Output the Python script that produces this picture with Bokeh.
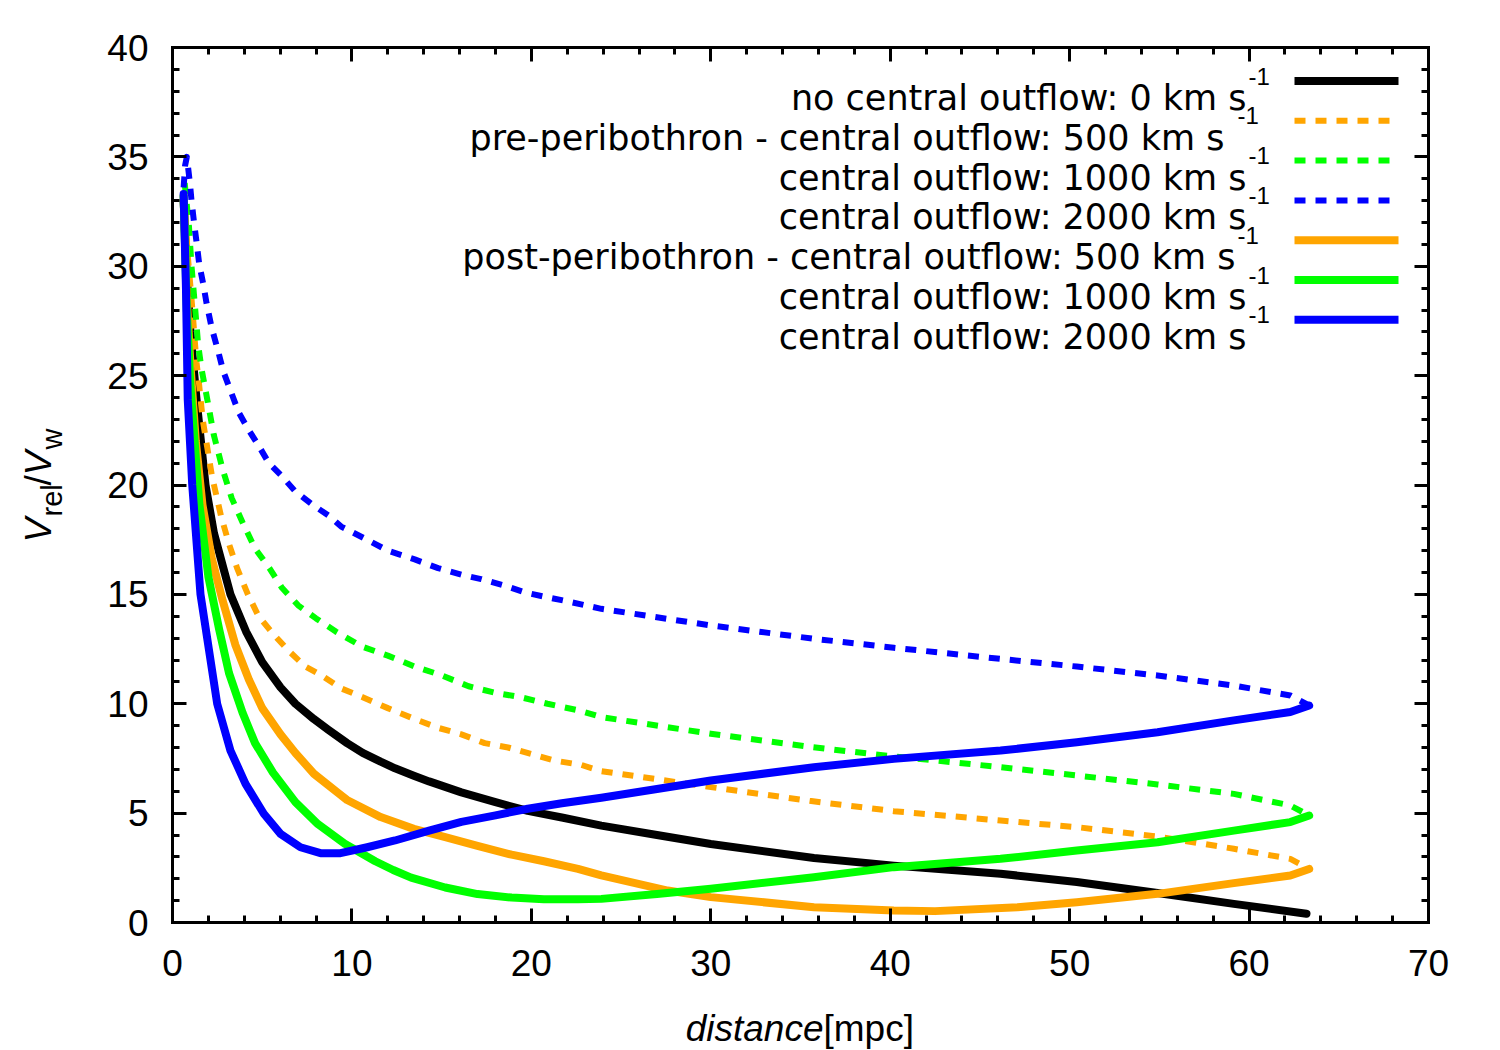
import math
from bokeh.plotting import figure
from bokeh.models import Range1d, LinearAxis, SingleIntervalTicker, Label
from bokeh.embed import file_html
from bokeh.resources import INLINE

# ---------------- data ----------------
# no central outflow (black)
dist_0 = [0.62, 0.8, 1.0, 1.34, 1.84, 2.31, 3.23, 4.1, 5.0, 6.02, 6.85, 7.88, 8.7, 9.73, 10.6, 11.6,
          12.4, 13.45, 14.3, 16.1, 18.0, 19.8, 21.7, 23.9, 27.0, 30.0, 35.75, 40.2, 46.15, 50.4,
          54.9, 59.15, 63.2]
ratio_0 = [33.0, 29.5, 27.0, 23.9, 20.0, 17.8, 15.0, 13.3, 11.9, 10.75, 10.0, 9.3, 8.8, 8.2, 7.75, 7.35,
           7.05, 6.71, 6.45, 5.95, 5.5, 5.1, 4.8, 4.43, 4.0, 3.59, 2.95, 2.6, 2.23, 1.85,
           1.35, 0.85, 0.40]

# pre-peribothron, 500 km/s (orange dashed)
dist_pre500 = [0.65, 0.85, 1.06, 1.15, 1.25, 1.34, 1.47, 1.58, 1.7, 2.2, 2.7, 3.15, 3.6, 4.2, 4.8,
               5.6, 6.5, 7.4, 8.3, 9.4, 10.6, 12.0, 13.5, 14.8, 16.1, 17.4, 18.7, 20.0, 21.3, 22.8,
               23.9, 30.0, 35.6, 40.2, 46.15, 50.4, 54.9, 59.15, 62.3, 63.35]
ratio_pre500 = [33.4, 30.5, 28.5, 27.6, 26.5, 25.6, 24.7, 23.8, 22.9, 20.4, 18.6, 17.3, 16.2, 15.0, 14.0,
                13.2, 12.4, 11.7, 11.3, 10.7, 10.3, 9.8, 9.3, 8.9, 8.6, 8.2, 8.0, 7.7, 7.4, 7.2,
                6.92, 6.19, 5.55, 5.09, 4.66, 4.36, 3.93, 3.37, 2.91, 2.45]

# pre-peribothron, 1000 km/s (green dashed)
dist_pre1000 = [0.68, 0.92, 1.06, 1.25, 1.43, 1.62, 1.85, 2.3, 2.8, 3.3, 3.9, 4.6, 5.4, 6.1, 7.0,
                8.0, 9.1, 10.6, 12.0, 13.5, 15.0, 16.5, 18.0, 19.4, 20.9, 22.6, 23.9, 30.0, 35.6,
                40.2, 42.5, 46.15, 50.4, 54.9, 59.15, 62.3, 63.35]
ratio_pre1000 = [33.8, 31.8, 30.0, 28.2, 26.4, 25.3, 24.3, 22.3, 20.7, 19.4, 18.3, 17.1, 16.2, 15.3, 14.5,
                 13.9, 13.3, 12.6, 12.2, 11.7, 11.3, 10.8, 10.5, 10.3, 10.0, 9.7, 9.39, 8.63, 8.02,
                 7.59, 7.41, 7.1, 6.72, 6.31, 5.88, 5.35, 4.89]

# pre-peribothron, 2000 km/s (blue dashed)
dist_pre2000 = [0.62, 0.7, 0.8, 0.97, 1.06, 1.2, 1.34, 1.49, 1.71, 1.9, 2.18, 2.55, 2.83, 3.24, 3.7,
                4.26, 4.8, 5.37, 6.1, 6.85, 7.8, 8.7, 9.4, 10.6, 12.0, 13.5, 14.8, 16.1, 17.2, 18.5,
                19.6, 20.7, 21.9, 23.9, 30.0, 35.75, 40.2, 46.15, 50.4, 54.9, 59.15, 62.3, 63.35]
ratio_pre2000 = [33.6, 34.6, 35.0, 33.8, 33.0, 32.0, 31.1, 30.1, 29.2, 28.3, 27.2, 26.1, 25.2, 24.3, 23.3,
                 22.5, 21.8, 21.0, 20.4, 19.7, 19.1, 18.6, 18.1, 17.6, 17.0, 16.6, 16.2, 15.9, 15.7, 15.4,
                 15.1, 14.9, 14.7, 14.34, 13.58, 12.97, 12.56, 12.05, 11.7, 11.29, 10.83, 10.38, 9.92]

# post-peribothron, 500 km/s (orange solid)
dist_post500 = [0.62, 0.8, 1.0, 1.3, 1.67, 2.2, 2.8, 3.5, 4.26, 5.0, 6.02, 6.85, 7.88, 9.26, 9.73,
                11.6, 13.45, 15.2, 17.0, 18.9, 20.7, 22.6, 23.9, 27.6, 30.0, 35.75, 40.2, 42.5, 47.1,
                50.4, 54.9, 59.15, 62.3, 63.35]
ratio_post500 = [33.2, 28.5, 25.5, 22.0, 19.1, 16.6, 14.7, 12.7, 11.1, 9.8, 8.6, 7.75, 6.8, 5.9, 5.6,
                 4.82, 4.28, 3.9, 3.5, 3.1, 2.8, 2.45, 2.15, 1.46, 1.16, 0.70, 0.55, 0.52, 0.70,
                 0.93, 1.31, 1.80, 2.15, 2.45]

# post-peribothron, 1000 km/s (green solid)
dist_post1000 = [0.62, 0.8, 1.0, 1.5, 2.0, 2.6, 3.15, 3.9, 4.6, 5.6, 6.85, 8.1, 9.6, 11.3, 12.3,
                 13.3, 15.2, 17.0, 18.9, 20.7, 22.6, 23.9, 27.0, 30.0, 35.75, 40.2, 46.15, 50.4,
                 54.9, 59.15, 62.3, 63.35]
ratio_post1000 = [33.2, 28.0, 24.5, 19.1, 15.8, 13.4, 11.4, 9.6, 8.2, 6.85, 5.5, 4.5, 3.6, 2.8, 2.4,
                  2.05, 1.6, 1.3, 1.14, 1.06, 1.06, 1.08, 1.3, 1.54, 2.07, 2.53, 2.91, 3.29,
                  3.67, 4.2, 4.59, 4.89]

# post-peribothron, 2000 km/s (blue solid)
dist_post2000 = [0.62, 0.75, 0.85, 1.1, 1.56, 2.49, 3.23, 4.07, 5.09, 6.02, 7.13, 8.25, 9.36, 10.85,
                 12.4, 14.3, 16.1, 18.0, 19.8, 21.7, 23.9, 27.0, 30.0, 35.75, 40.2, 46.15, 50.4,
                 54.9, 59.15, 62.3, 63.35]
ratio_post2000 = [33.3, 29.0, 23.9, 20.0, 15.0, 10.0, 7.86, 6.34, 4.97, 4.05, 3.44, 3.17, 3.17, 3.44,
                  3.75, 4.2, 4.6, 4.9, 5.2, 5.45, 5.7, 6.1, 6.49, 7.1, 7.48, 7.86, 8.24,
                  8.7, 9.24, 9.62, 9.92]

legend_labels = [
    "no central outflow: 0 km s",
    "pre-peribothron  - central outflow: 500 km s",
    "central outflow: 1000 km s",
    "central outflow: 2000 km s",
    "post-peribothron - central outflow: 500 km s",
    "central outflow: 1000 km s",
    "central outflow: 2000 km s",
]
x_ticks_interval = 10
y_ticks_interval = 5

# ---------------- styles / layout ----------------
ORANGE, GREEN, BLUE, BLACK = "#FFA500", "#00FF00", "#0000FF", "#000000"
series = [
    (dist_0, ratio_0, BLACK, "solid"),
    (dist_pre500, ratio_pre500, ORANGE, "dash"),
    (dist_pre1000, ratio_pre1000, GREEN, "dash"),
    (dist_pre2000, ratio_pre2000, BLUE, "dash"),
    (dist_post500, ratio_post500, ORANGE, "solid"),
    (dist_post1000, ratio_post1000, GREEN, "solid"),
    (dist_post2000, ratio_post2000, BLUE, "solid"),
]
trailing = [0, 11, 0, 0, 11, 0, 0]

# The whole canvas is the plotting frame; the data box [0,70]x[0,40] sits at these pixels
W, H = 1500, 1050
BL, BR, BT, BB = 172, 1428, 47, 922
XMIN, XMAX, YMIN, YMAX = 0, 70, 0, 40
SX = (BR - BL) / (XMAX - XMIN)
SY = (BB - BT) / (YMAX - YMIN)

def dx(px):
    return XMIN + (px - BL) / SX

def dy(py):
    return YMIN + (BB - py) / SY

p = figure(width=W, height=H, x_range=Range1d(dx(0), dx(W)), y_range=Range1d(dy(H), dy(0)),
           output_backend="svg", toolbar_location=None,
           min_border=0, min_border_left=0, min_border_right=0, min_border_top=0, min_border_bottom=0)
if p.title is not None:
    p.title.visible = False
p.xgrid.visible = False
p.ygrid.visible = False
p.outline_line_color = None
p.background_fill_color = "white"
p.border_fill_color = "white"

TICK_FONT = "Liberation Sans"

def style_axis(ax, show_labels, standoff=0):
    ax.axis_line_width = 3
    ax.axis_line_color = "black"
    ax.axis_line_cap = "square"
    ax.major_tick_in = 14
    ax.major_tick_out = 0
    ax.minor_tick_in = 7
    ax.minor_tick_out = 0
    ax.major_tick_line_width = 3
    ax.minor_tick_line_width = 3
    ax.major_tick_line_color = "black"
    ax.minor_tick_line_color = "black"
    ax.major_label_text_font = TICK_FONT
    if show_labels:
        ax.major_label_text_color = "black"
        ax.major_label_text_font_size = "37px"
        ax.major_label_standoff = standoff
    else:
        ax.major_label_text_color = None
        ax.major_label_text_font_size = "1px"
        ax.major_label_standoff = 0
    ax.axis_label = None

xb = p.xaxis[0]
yl = p.yaxis[0]
xb.ticker = SingleIntervalTicker(interval=x_ticks_interval, num_minor_ticks=5)
yl.ticker = SingleIntervalTicker(interval=y_ticks_interval, num_minor_ticks=5)
xb.fixed_location = YMIN
yl.fixed_location = XMIN
xb.bounds = (XMIN, XMAX)
yl.bounds = (YMIN, YMAX)
style_axis(xb, True, 27)
style_axis(yl, True, 24)

top_ax = LinearAxis(ticker=SingleIntervalTicker(interval=x_ticks_interval, num_minor_ticks=5),
                    fixed_location=YMAX, bounds=(XMIN, XMAX))
right_ax = LinearAxis(ticker=SingleIntervalTicker(interval=y_ticks_interval, num_minor_ticks=5),
                      fixed_location=XMAX, bounds=(YMIN, YMAX))
style_axis(top_ax, False)
style_axis(right_ax, False)
top_ax.major_label_overrides = {v: "" for v in range(XMIN, XMAX + 1, x_ticks_interval)}
right_ax.major_label_overrides = {v: "" for v in range(YMIN, YMAX + 1, y_ticks_interval)}
p.add_layout(top_ax, "above")
p.add_layout(right_ax, "right")

# curves
for xs, ys, col, kind in series:
    if kind == "dash":
        p.line(xs, ys, line_color=col, line_width=6, line_dash="11 10",
               line_cap="butt", line_join="round")
    else:
        p.line(xs, ys, line_color=col, line_width=8, line_cap="round", line_join="round")

# legend (manual, gnuplot style: text right-justified, sample on the right)
LEG_FONT = "DejaVu Sans"
for i, (label, (xs, ys, col, kind), tr) in enumerate(zip(legend_labels, series, trailing)):
    row_y = 80.5 + 39.8 * i
    base_y = row_y + 17
    p.add_layout(Label(x=dx(1246 - tr), y=dy(base_y), text=label, text_font=LEG_FONT,
                       text_font_size="35px", text_align="right", text_baseline="alphabetic",
                       text_color="black"))
    p.add_layout(Label(x=dx(1248 - tr), y=dy(base_y - 22), text="-1", text_font=TICK_FONT,
                       text_font_size="24px", text_align="left", text_baseline="alphabetic",
                       text_color="black"))
    if kind == "dash":
        p.segment(x0=[dx(1294)], y0=[dy(row_y)], x1=[dx(1398)], y1=[dy(row_y)],
                  line_color=col, line_width=6, line_dash="11 10", line_cap="butt")
    else:
        p.segment(x0=[dx(1294)], y0=[dy(row_y)], x1=[dx(1398)], y1=[dy(row_y)],
                  line_color=col, line_width=8, line_cap="butt")

# x axis label: italic "distance" + "[mpc]"
p.add_layout(Label(x=dx(823), y=dy(1028), text="distance", text_font=TICK_FONT,
                   text_font_size="37px", text_font_style="italic", text_align="right",
                   text_baseline="alphabetic", text_color="black"))
p.add_layout(Label(x=dx(823), y=dy(1028), text="[mpc]", text_font=TICK_FONT,
                   text_font_size="37px", text_align="left", text_baseline="alphabetic",
                   text_color="black"))

# y axis label: V_rel / V_w (rotated)
ypieces = [
    ("V", 38, 542, "37px", "italic"),
    ("rel", 51, 516, "29px", "normal"),
    ("/", 38, 485, "37px", "normal"),
    ("V", 38, 475, "37px", "italic"),
    ("w", 51, 449, "29px", "normal"),
]
for txt, px_, py_, fs, st in ypieces:
    p.add_layout(Label(x=dx(px_), y=dy(py_), text=txt, text_font=TICK_FONT, text_font_size=fs,
                       text_font_style=st, angle=math.pi / 2, text_align="left",
                       text_baseline="alphabetic", text_color="black"))

open("out.html", "w").write(file_html(p, INLINE))
